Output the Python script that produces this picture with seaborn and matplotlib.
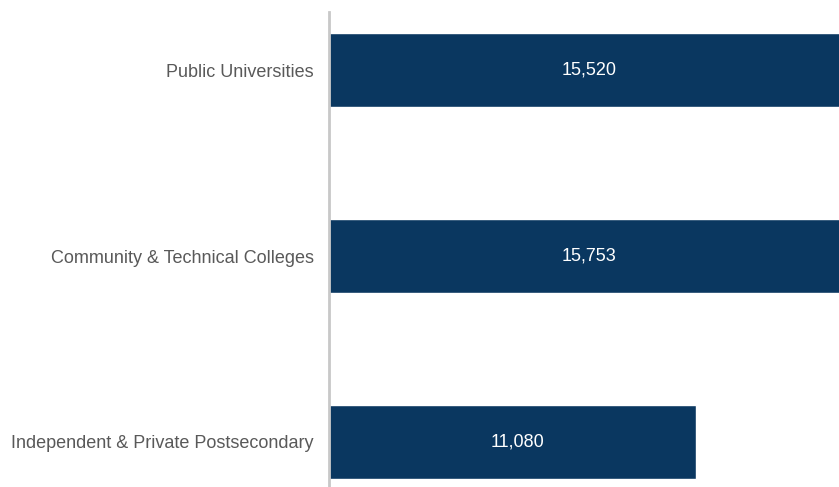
import matplotlib
matplotlib.use("Agg")
import matplotlib.pyplot as plt
import seaborn as sns
import pandas as pd

sns.set_theme(style="white")
plt.rcParams["font.family"] = ["Liberation Sans", "DejaVu Sans"]

## Data
categories = [
    "Public Universities",
    "Community & Technical Colleges",
    "Independent & Private Postsecondary",
]
values = [15520, 15753, 11080]

df = pd.DataFrame({"Sector": categories, "Students": values})

BAR_COLOR = "#0a3760"
TEXT_COLOR = "#595959"
X_MAX = 15400  # axis is cut short in the original, so the two top bars run off the edge

fig = plt.figure(figsize=(8.39, 4.87), dpi=100)
ax = fig.add_axes([329 / 839, 0.0, 1 - 329 / 839, 1 - 12 / 487])

sns.barplot(
    data=df,
    x="Students",
    y="Sector",
    order=categories,
    color=BAR_COLOR,
    width=0.4,
    saturation=1,
    ax=ax,
)

ax.set_xlim(0, X_MAX)
ax.set_ylim(2.242, -0.312)

# --- value labels, centred on the visible part of each bar ---
for i, v in enumerate(values):
    ax.text(min(v, X_MAX) / 2 + 150, i, f"{v:,}", color="white",
            ha="center", va="center", fontsize=13)

# --- axes cosmetics ---
ax.set_xlabel("")
ax.set_ylabel("")
ax.set_xticks([])
ax.tick_params(axis="y", length=0, pad=11, labelsize=13, labelcolor=TEXT_COLOR)
for side in ["top", "right", "bottom"]:
    ax.spines[side].set_visible(False)
ax.spines["left"].set_color("#c8c8c8")
ax.spines["left"].set_linewidth(2)

fig.savefig("out.png", dpi=100)
